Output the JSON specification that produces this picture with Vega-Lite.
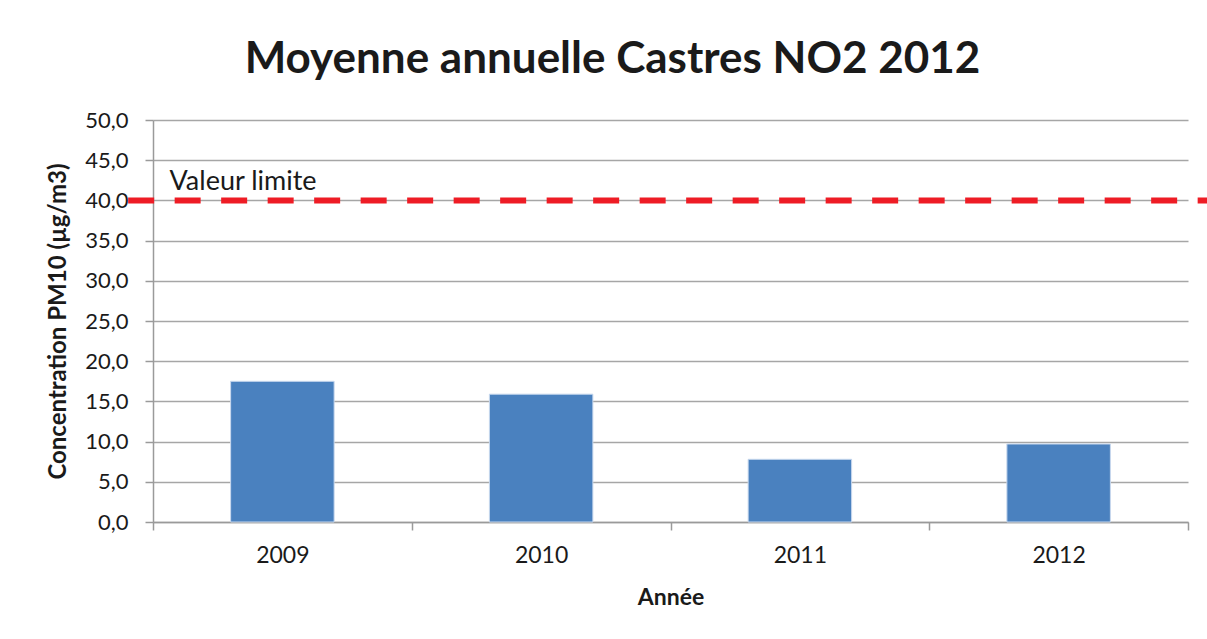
{
  "$schema": "https://vega.github.io/schema/vega-lite/v6.json",
  "autosize": "none",
  "width": 1035,
  "height": 402,
  "padding": {"left": 153, "top": 120, "right": 19, "bottom": 117},
  "background": "white",
  "title": {
    "text": "Moyenne annuelle Castres NO2 2012",
    "font": "Lato",
    "fontSize": 44,
    "fontWeight": "bold",
    "color": "#1a1a1a",
    "anchor": "middle",
    "dx": -58,
    "offset": 27
  },
  "config": {
    "view": {"stroke": null},
    "font": "Lato"
  },
  "datasets": {
    "bars": [
      {"annee": "2009", "valeur": 17.5},
      {"annee": "2010", "valeur": 15.9},
      {"annee": "2011", "valeur": 7.8},
      {"annee": "2012", "valeur": 9.7}
    ],
    "limite": [
      {"debut": -0.024, "fin": 1.022, "valeur": 40, "pos": 0.016, "label": "Valeur limite"}
    ]
  },
  "layer": [
    {
      "data": {"name": "bars"},
      "mark": {"type": "bar", "color": "#4a81bf", "stroke": "#c9d9ee", "strokeWidth": 1, "width": {"band": 0.4}},
      "encoding": {
        "x": {
          "field": "annee",
          "type": "nominal",
          "scale": {"paddingInner": 0, "paddingOuter": 0},
          "axis": {
            "title": "Année",
            "titleFontSize": 23,
            "titleFontWeight": "bold",
            "titleColor": "#1a1a1a",
            "titlePadding": 19,
            "labelFontSize": 23,
            "labelColor": "#1a1a1a",
            "labelAngle": 0,
            "labelPadding": 14,
            "tickBand": "extent",
            "tickSize": 8,
            "tickColor": "#9a9a9a",
            "tickWidth": 1.5,
            "domainColor": "#9a9a9a",
            "domainWidth": 1.5,
            "grid": false
          }
        },
        "y": {
          "field": "valeur",
          "type": "quantitative",
          "scale": {"domain": [0, 50], "nice": false},
          "axis": {
            "title": "Concentration PM10 (µg/m3)",
            "titleFontSize": 24,
            "titleFontWeight": "bold",
            "titleColor": "#1a1a1a",
            "titlePadding": 14,
            "values": [0, 5, 10, 15, 20, 25, 30, 35, 40, 45, 50],
            "labelExpr": "replace(format(datum.value, '.1f'), '.', ',')",
            "labelFontSize": 22,
            "labelColor": "#1a1a1a",
            "labelPadding": 17,
            "tickSize": 8,
            "tickColor": "#9a9a9a",
            "tickWidth": 1.5,
            "domainColor": "#9a9a9a",
            "domainWidth": 1.5,
            "grid": true,
            "gridColor": "#a6a6a6",
            "gridWidth": 1.5
          }
        }
      }
    },
    {
      "data": {"name": "limite"},
      "mark": {"type": "rule", "color": "#ee1c25", "strokeWidth": 6, "strokeDash": [26, 20.5], "clip": false},
      "encoding": {
        "x": {"field": "debut", "type": "quantitative", "scale": {"domain": [0, 1]}, "axis": null},
        "x2": {"field": "fin"},
        "y": {"field": "valeur", "type": "quantitative"}
      }
    },
    {
      "data": {"name": "limite"},
      "mark": {"type": "text", "align": "left", "baseline": "alphabetic", "dy": -10, "fontSize": 27, "color": "#1a1a1a", "font": "Lato"},
      "encoding": {
        "x": {"field": "pos", "type": "quantitative", "scale": {"domain": [0, 1]}, "axis": null},
        "y": {"field": "valeur", "type": "quantitative"},
        "text": {"field": "label"}
      }
    }
  ],
  "resolve": {"scale": {"x": "independent"}}
}
